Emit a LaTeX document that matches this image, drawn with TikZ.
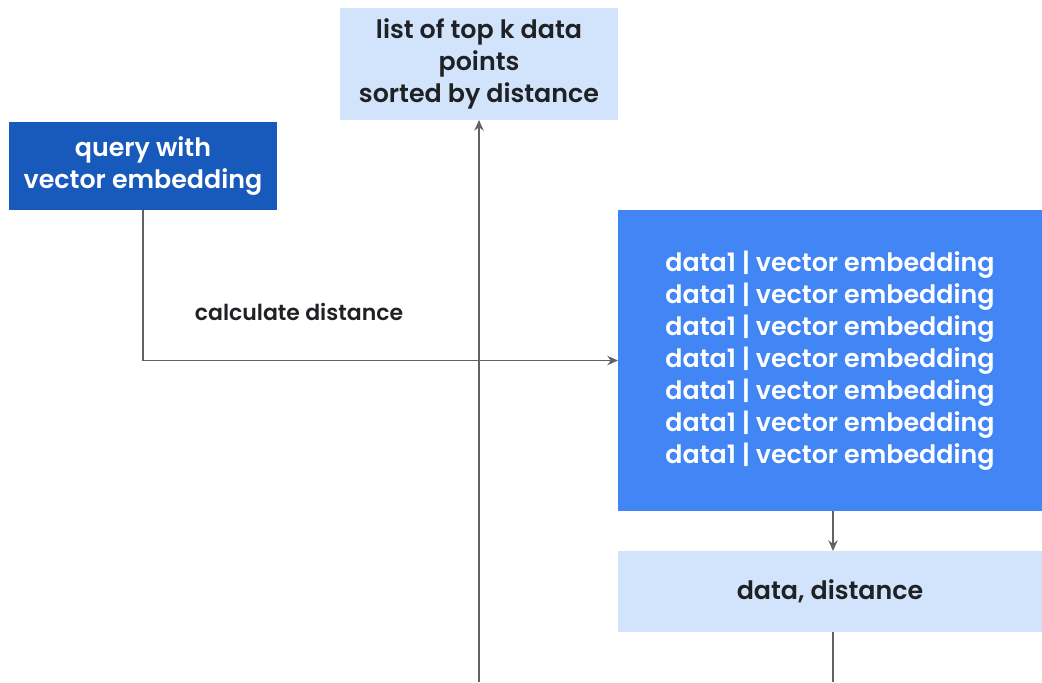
\documentclass[tikz,border=0pt]{standalone}
\usepackage{fontspec}
\setmainfont{Poppins}[UprightFont=*-Medium, BoldFont=*-SemiBold]
\usetikzlibrary{arrows.meta}
\definecolor{paleblue}{HTML}{D2E3FC}
\definecolor{darkblue}{HTML}{185ABC}
\definecolor{midblue}{HTML}{4285F4}
\definecolor{linegray}{HTML}{5F6368}
\definecolor{inkgray}{HTML}{202124}
\tikzset{
  box/.style={rectangle, inner sep=0pt, outer sep=0pt, align=center, font=\fontsize{19}{24}\selectfont\bfseries},
  conn/.style={draw=linegray, line width=1.2pt, -{Stealth[length=8pt, width=7pt]}},
}
\begin{document}
\begin{tikzpicture}[x=0.75pt, y=-0.75pt]
                    \useasboundingbox (0,0) rectangle (1042,682);
                    % Nodes
                    \node[box, fill=paleblue, text=inkgray, minimum width=208.5pt, minimum height=84pt] (topk) at (479,64) {list of top k data\\points\\sorted by distance};
                    \node[box, fill=darkblue, text=white, minimum width=201pt, minimum height=66pt] (query) at (143,166) {query with\\vector embedding};
                    \node[box, fill=midblue, text=white, minimum width=318pt, minimum height=225.75pt, align=left] (data) at (830,360.5) {data1 | vector embedding\\data1 | vector embedding\\data1 | vector embedding\\data1 | vector embedding\\data1 | vector embedding\\data1 | vector embedding\\data1 | vector embedding};
                    \node[box, fill=paleblue, text=inkgray, minimum width=318pt, minimum height=60.75pt] (dist) at (830,591.5) {data, distance};
                    \node[text=inkgray, font=\fontsize{16.5}{20}\selectfont\bfseries] (calc) at (299,312) {calculate distance};
                    \coordinate (bottomA) at (479,682);
                    \coordinate (bottomB) at (833,682);
                    % Edges
                    \draw[conn] (query.south) |- (data.west);
                    \draw[conn] (bottomA) -- (topk.south);
                    \draw[conn] (data.south -| 833,0) -- (dist.north -| 833,0);
                    \draw[conn, -] (dist.south -| 833,0) -- (bottomB);
                \end{tikzpicture}
\end{document}
